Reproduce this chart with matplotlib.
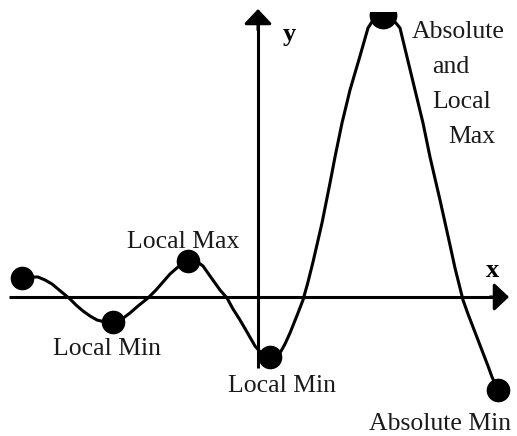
import matplotlib
matplotlib.use('Agg')
import matplotlib.pyplot as plt
from matplotlib.patches import Rectangle

W, H = 517, 436

# curve, in pixel units (y grows downward)
curve_x = [22, 30, 38, 45, 52, 58, 64, 70, 76, 83, 90, 97, 105, 113,
           122, 130, 138, 148, 156, 163, 170, 178, 188,
           196, 203, 210, 220, 227, 233, 240, 247, 255, 262, 270,
           276, 280, 285, 290, 294, 298, 303, 308, 313, 322, 330,
           335, 342, 350, 360, 368, 375, 383, 391, 400, 407, 415, 423,
           430, 440, 450, 455, 460, 463, 468, 473, 478, 483, 488, 492, 498]
curve_y = [278, 277, 277, 280, 284, 289, 294, 299, 305, 311, 316, 320, 322, 322,
           319, 313, 306, 298, 290, 282, 274, 267, 261,
           261, 266, 276, 290, 298, 309, 320, 332, 346, 354, 357,
           357, 353, 344, 333, 323, 313, 300, 282, 262, 223, 183,
           157, 123, 90, 56, 28, 17, 13, 17, 28, 57, 90, 123,
           157, 200, 245, 268, 288, 300, 314, 327, 340, 353, 366, 377, 390]

# extreme points
pts_x = [22, 113, 188, 270, 498]
pts_y = [278, 322, 261, 357, 390]
peak = (383, 15)

labels = ['Local Max', 'Local Min', 'Local Min', 'Absolute Min',
          'Absolute', 'and', 'Local', 'Max']
label_x = [183, 107, 282, 440, 458, 451, 462, 472]
label_y = [242, 349, 386, 424, 32, 67, 102, 137]

fig = plt.figure(figsize=(W / 100, H / 100), dpi=100)
ax = fig.add_axes([0, 0, 1, 1])
ax.set_xlim(0, W)
ax.set_ylim(H, 0)
ax.axis('off')

lw = 2.2
clip = Rectangle((0, 12), W, H, transform=ax.transData)

# axes with arrow heads
ax.plot([9, 500], [297, 297], color='black', lw=lw, solid_capstyle='butt')
ax.plot([258, 258], [368, 18], color='black', lw=lw, solid_capstyle='butt')
ax.annotate('', xy=(509, 297), xytext=(490, 297),
            arrowprops=dict(arrowstyle='-|>,head_length=0.9,head_width=0.85',
                            color='black', lw=lw, mutation_scale=10, shrinkA=0, shrinkB=0),
            annotation_clip=False)
ax.annotate('', xy=(258, 9), xytext=(258, 30),
            arrowprops=dict(arrowstyle='-|>,head_length=0.9,head_width=0.85',
                            color='black', lw=lw, mutation_scale=10, shrinkA=0, shrinkB=0),
            annotation_clip=False)

line, = ax.plot(curve_x, curve_y, color='black', lw=lw, solid_joinstyle='round')
line.set_clip_path(clip)
ax.plot(pts_x, pts_y, 'o', color='black', ms=16)
top, = ax.plot([peak[0]], [peak[1]], 'o', color='black', ms=19)
top.set_clip_path(clip)

font = dict(family='Liberation Serif', fontsize=18.5)
for t, x, y in zip(labels, label_x, label_y):
    ax.text(x, y, t, ha='center', va='center', color='#1a1a1a', **font)

ax.text(289, 34, 'y', ha='center', va='center', fontweight='bold',
        family='Liberation Serif', fontsize=19)
ax.text(493, 270, 'x', ha='center', va='center', fontweight='bold',
        family='Liberation Serif', fontsize=19)

fig.savefig('out.png', dpi=100)
